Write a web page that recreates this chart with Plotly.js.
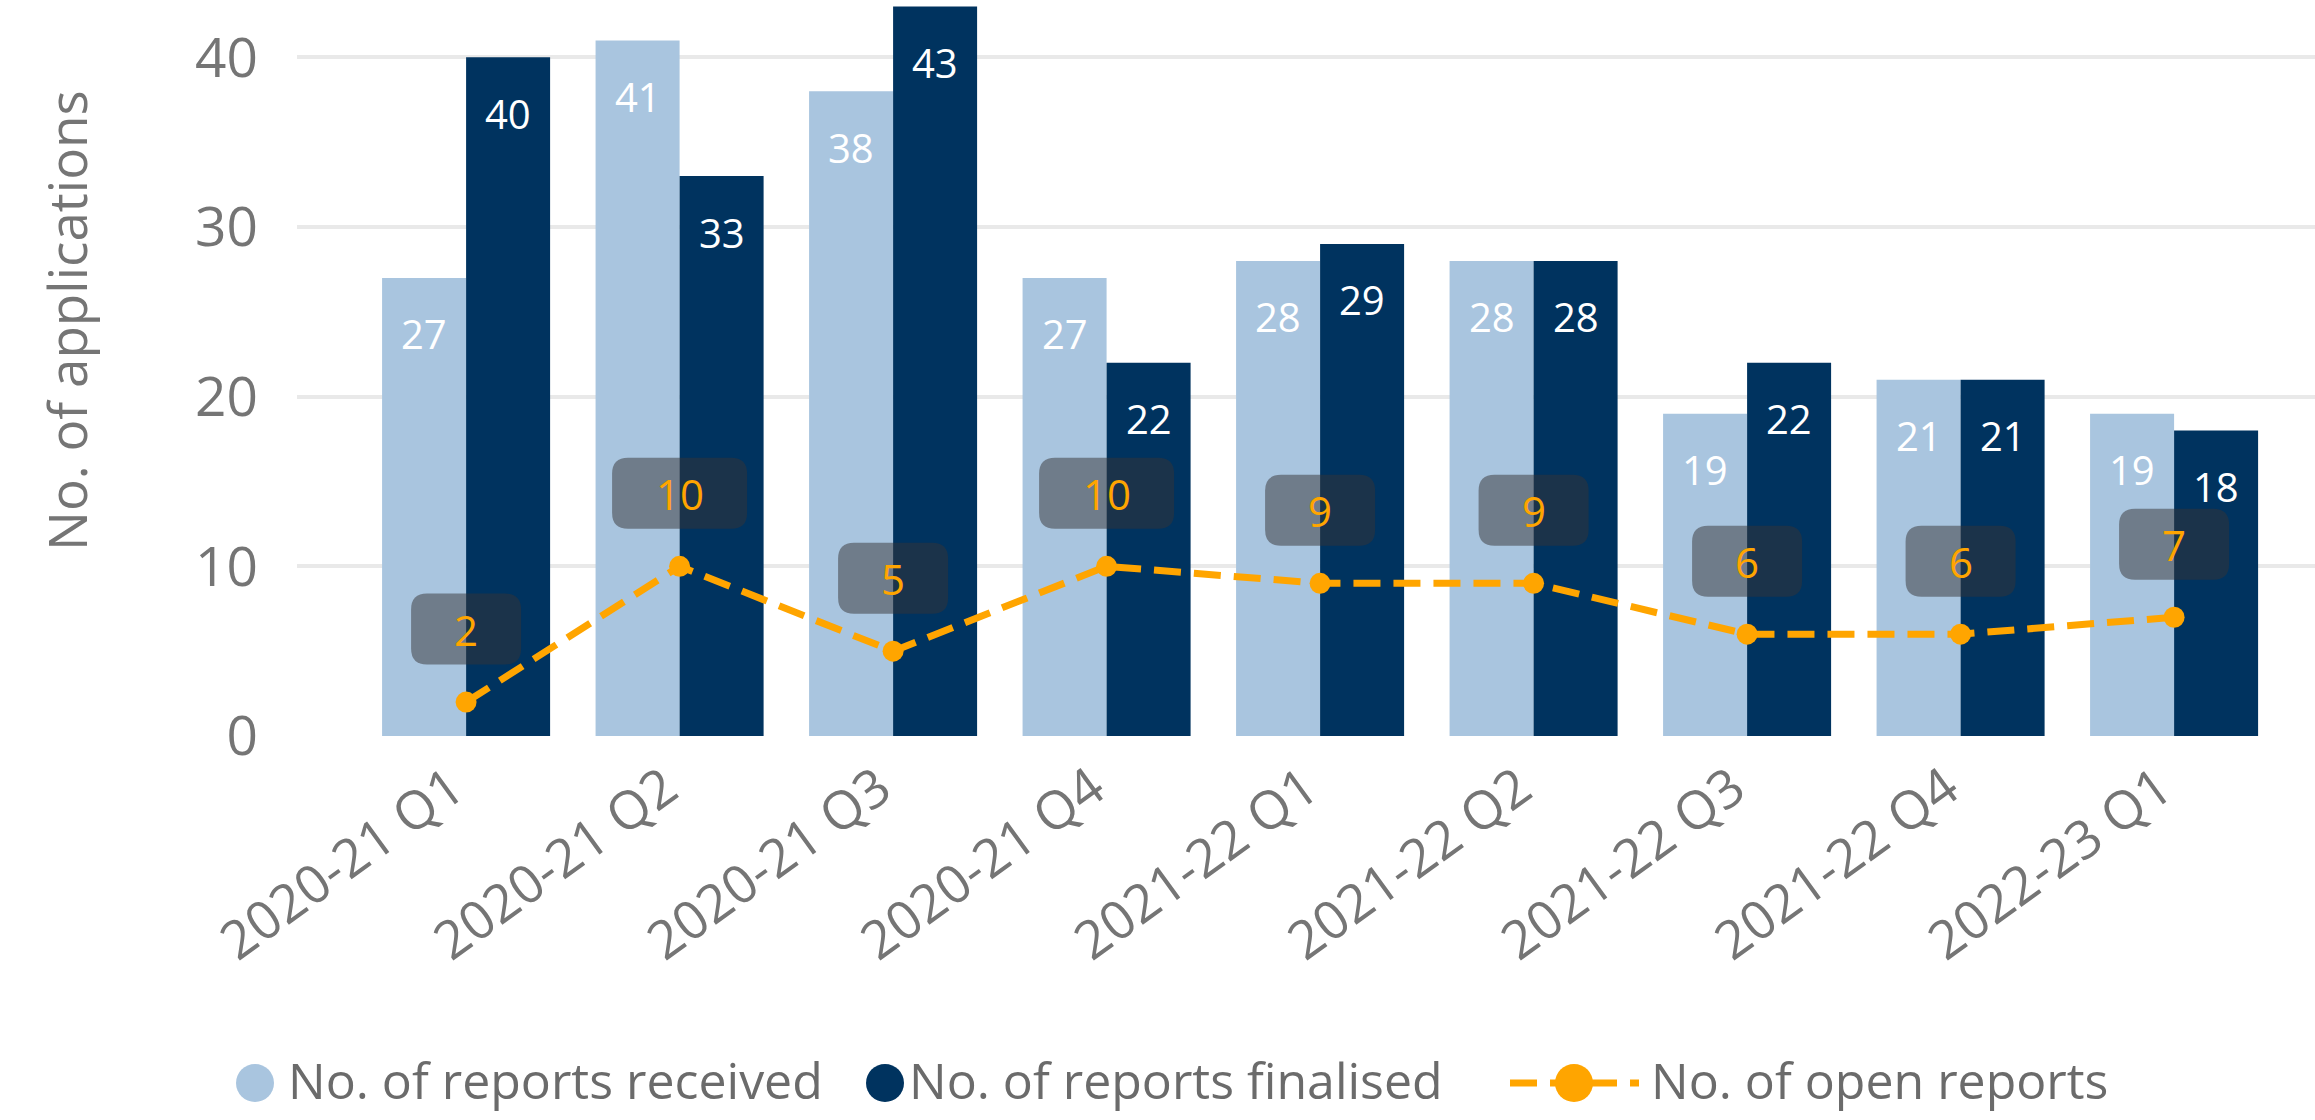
<!DOCTYPE html>
<html>
<head>
<meta charset="utf-8">
<script src="https://cdn.plot.ly/plotly-3.0.1.min.js"></script>
<style>html,body{margin:0;padding:0;background:#fff;}#chart{width:2315px;height:1120px;}</style>
</head>
<body>
<div id="chart"></div>
<script>
// ---- data ----
const categories = ['2020-21 Q1','2020-21 Q2','2020-21 Q3','2020-21 Q4','2021-22 Q1','2021-22 Q2','2021-22 Q3','2021-22 Q4','2022-23 Q1'];
const received  = [27, 41, 38, 27, 28, 28, 19, 21, 19];
const finalised = [40, 33, 43, 22, 29, 28, 22, 21, 18];
const openReports = [2, 10, 5, 10, 9, 9, 6, 6, 7];
const seriesNames = ['No. of reports received', 'No. of reports finalised', 'No. of open reports'];
const yTicks = [0, 10, 20, 30, 40];
const yTitle = 'No. of applications';

// ---- style ----
const FONT = '"Open Sans", "Noto Sans", sans-serif';
const cLight = '#A9C5DF', cDark = '#00335F', cOrange = '#FFA500';
const W = 2315, H = 1120, L = 297, R = 0, T = 0, B = 384;
const plotW = W - L - R, plotH = H - T - B;
const px2x = p => (p - L) / plotW;
const py2y = p => (H - B - p) / plotH;
const idx = categories.map((_, i) => i);

const traces = [
  {type: 'bar', x: idx, y: received, name: seriesNames[0], marker: {color: cLight}, showlegend: false, hoverinfo: 'y'},
  {type: 'bar', x: idx, y: finalised, name: seriesNames[1], marker: {color: cDark}, showlegend: false, hoverinfo: 'y'},
  {type: 'scatter', mode: 'lines+markers', x: idx, y: openReports, name: seriesNames[2],
   line: {color: cOrange, width: 7, dash: '27px,13px'}, marker: {color: cOrange, size: 21}, showlegend: false}
];

const annotations = [];
const shapes = [];
// bar value labels
received.forEach((v, i) => annotations.push({x: i, y: v, xref: 'x', yref: 'y', text: String(v), showarrow: false,
  xshift: -42, yshift: -56, yanchor: 'middle', font: {family: FONT, size: 40, color: '#FFFFFF'}}));
finalised.forEach((v, i) => annotations.push({x: i, y: v, xref: 'x', yref: 'y', text: String(v), showarrow: false,
  xshift: 42, yshift: -56, yanchor: 'middle', font: {family: FONT, size: 40, color: '#FFFFFF'}}));
// open-report labels with rounded boxes
function rrect(w, h, cy, r) {
  const x0 = -w / 2, x1 = w / 2, y0 = cy - h / 2, y1 = cy + h / 2;
  return `M ${x0 + r},${y0} L ${x1 - r},${y0} Q ${x1},${y0} ${x1},${y0 + r} L ${x1},${y1 - r} Q ${x1},${y1} ${x1 - r},${y1} ` +
         `L ${x0 + r},${y1} Q ${x0},${y1} ${x0},${y1 - r} L ${x0},${y0 + r} Q ${x0},${y0} ${x0 + r},${y0} Z`;
}
openReports.forEach((v, i) => {
  const w = 85 + 25 * String(v).length;
  shapes.push({type: 'path', xref: 'x', yref: 'y', xsizemode: 'pixel', ysizemode: 'pixel', xanchor: i, yanchor: v,
    path: rrect(w, 71, 73, 16), fillcolor: 'rgba(54,52,53,0.5)', line: {width: 0}, layer: 'above'});
  annotations.push({x: i, y: v, xref: 'x', yref: 'y', text: String(v), showarrow: false, yshift: 73, yanchor: 'middle',
    font: {family: FONT, size: 42, color: cOrange}});
});

// y-axis title
annotations.push({xref: 'paper', yref: 'paper', x: px2x(66), y: py2y(321), text: yTitle, textangle: -90, showarrow: false,
  xanchor: 'center', yanchor: 'middle', font: {family: FONT, size: 53, color: '#757575'}});

// custom legend
const LEG_CY = 1080;
const legY = py2y(LEG_CY);
const legFont = {family: FONT, size: 50, color: '#6B6B6B'};
const circ = (cx, r, col) => ({type: 'circle', xref: 'paper', yref: 'paper', x0: px2x(cx - r), x1: px2x(cx + r),
  y0: py2y(LEG_CY + 3 + r), y1: py2y(LEG_CY + 3 - r), fillcolor: col, line: {width: 0}});
shapes.push(circ(255, 19, cLight));
shapes.push(circ(885, 19, cDark));
shapes.push({type: 'line', xref: 'paper', yref: 'paper', x0: px2x(1510), x1: px2x(1639), y0: py2y(LEG_CY + 3), y1: py2y(LEG_CY + 3),
  line: {color: cOrange, width: 7, dash: '27px,13px'}});
shapes.push(circ(1574, 19, cOrange));
[[287, 0], [908, 1], [1650, 2]].forEach(([px, k]) => annotations.push({xref: 'paper', yref: 'paper', x: px2x(px), y: legY,
  text: seriesNames[k], showarrow: false, xanchor: 'left', yanchor: 'middle', borderpad: 0, font: legFont}));

const layout = {
  width: W, height: H,
  margin: {l: L, r: R, t: T, b: B, pad: 0},
  paper_bgcolor: '#FFFFFF', plot_bgcolor: '#FFFFFF',
  barmode: 'group', bargap: 0.213, bargroupgap: 0,
  showlegend: false,
  font: {family: FONT, color: '#757575'},
  xaxis: {range: [-0.792, 8.66], tickvals: idx, ticktext: categories, tickangle: -36, showgrid: false, zeroline: false,
    showline: false, ticks: '', tickfont: {family: FONT, size: 53, color: '#757575'}, ticklabelshift: -14, ticklabelstandoff: 10,
    fixedrange: true},
  yaxis: {range: [0, 43.38], tickvals: yTicks, showgrid: true, gridcolor: '#E9E9E9', gridwidth: 4, zeroline: false,
    showline: false, ticks: '', tickfont: {family: FONT, size: 55, color: '#757575'}, ticklabelstandoff: 38, fixedrange: true},
  annotations: annotations,
  shapes: shapes
};

Plotly.newPlot('chart', traces, layout, {displayModeBar: false, staticPlot: true});
</script>
</body>
</html>
